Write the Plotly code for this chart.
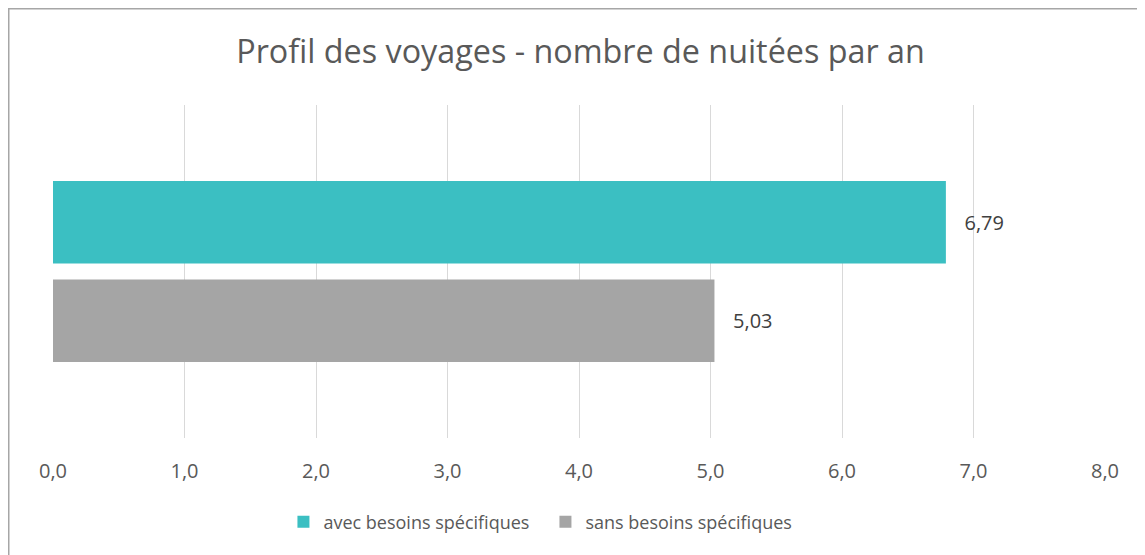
import plotly.graph_objects as go

categories = [""]
series_names = ["avec besoins spécifiques", "sans besoins spécifiques"]
avec_values = [6.79]
sans_values = [5.03]
colors = ["#3BBFC2", "#A5A5A5"]
tick_vals = [0, 1, 2, 3, 4, 5, 6, 7, 8]

# the page has an 8px body margin; work in figure coordinates (page - 8)
W, H = 1145, 555
L, R, T, B = 45, 48, 97, 125
pw, ph = W - L - R, H - T - B

def px_x(p):
    return (p - L) / pw

def px_y(p):
    return (H - B - p) / ph

label_tpl = "\u00a0\u00a0\u00a0%{x:.2f}"

fig = go.Figure()
# gray first so it sits lower in the group
fig.add_trace(go.Bar(
    y=categories, x=sans_values, orientation="h", name=series_names[1],
    marker=dict(color=colors[1], line=dict(width=0)),
    text=sans_values, texttemplate=label_tpl, textposition="outside",
    textfont=dict(size=20, color="#404040"), legendrank=2, cliponaxis=False,
))
fig.add_trace(go.Bar(
    y=categories, x=avec_values, orientation="h", name=series_names[0],
    marker=dict(color=colors[0], line=dict(width=0)),
    text=avec_values, texttemplate=label_tpl, textposition="outside",
    textfont=dict(size=20, color="#404040"), legendrank=1, cliponaxis=False,
))

fig.update_layout(
    width=W, height=H,
    margin=dict(l=L, r=R, t=T, b=B, pad=0),
    paper_bgcolor="white", plot_bgcolor="white",
    separators=", ",
    font=dict(family="Open Sans, sans-serif", color="#595959", size=18),
    title=dict(text="Profil des voyages - nombre de nuitées par an",
               x=0.5, xref="container", xanchor="center",
               y=1 - 44 / H, yref="container", yanchor="middle",
               font=dict(size=32.3, color="#595959")),
    barmode="group", bargap=0.408, bargroupgap=0.1624,
    xaxis=dict(range=[0, 8], tickvals=tick_vals, tickformat=".1f",
               showgrid=True, gridcolor="#D9D9D9", gridwidth=1.3,
               zeroline=False, showline=False, ticks="",
               ticklabelstandoff=19, tickfont=dict(size=20, color="#595959")),
    yaxis=dict(showticklabels=False, showgrid=False, zeroline=False, showline=False),
    showlegend=True,
    legend=dict(orientation="h", x=0.4681, xanchor="center", y=px_y(514), yanchor="middle",
                font=dict(size=18, color="#595959"), itemwidth=30,
                entrywidth=217, traceorder="normal"),
    shapes=[
        dict(type="line", xref="paper", yref="paper", x0=px_x(0), x1=px_x(W + 5),
             y0=px_y(0.75), y1=px_y(0.75), line=dict(color="#A6A6A6", width=1.5)),
        dict(type="line", xref="paper", yref="paper", x0=px_x(0.75), x1=px_x(0.75),
             y0=px_y(0), y1=px_y(H + 5), line=dict(color="#A6A6A6", width=1.5)),
    ],
)

fig.write_html("out.html")
